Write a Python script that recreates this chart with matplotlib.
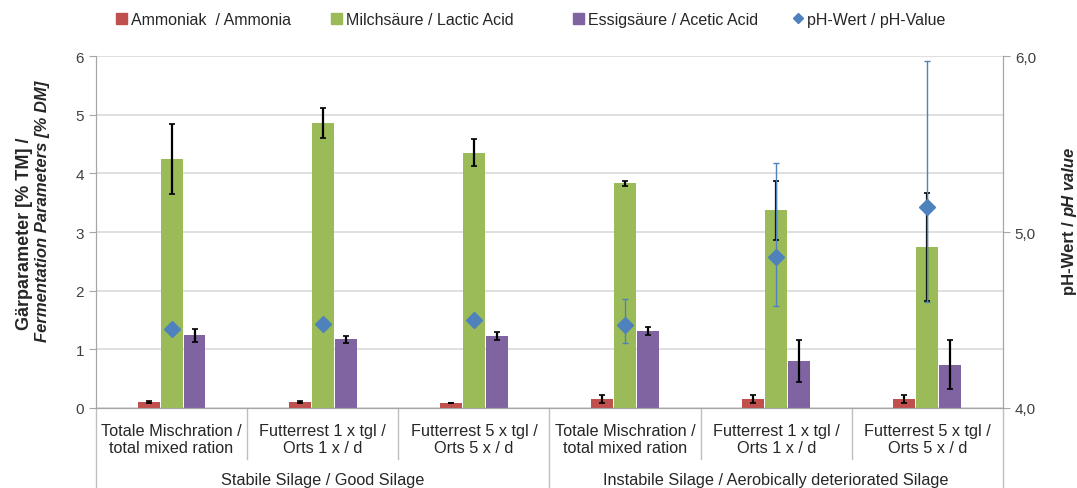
import matplotlib
matplotlib.use('Agg')
import matplotlib.pyplot as plt
import numpy as np
from matplotlib.lines import Line2D
from matplotlib.patches import Patch

plt.rcParams['font.family'] = ['Liberation Sans', 'DejaVu Sans']

# categories (two-level axis)
categories = ['Totale Mischration /\ntotal mixed ration',
              'Futterrest 1 x tgl /\nOrts 1 x / d',
              'Futterrest 5 x tgl /\nOrts 5 x / d',
              'Totale Mischration /\ntotal mixed ration',
              'Futterrest 1 x tgl /\nOrts 1 x / d',
              'Futterrest 5 x tgl /\nOrts 5 x / d']
groups = ['Stabile Silage / Good Silage',
          'Instabile Silage / Aerobically deteriorated Silage']

# values
ammonia = [0.10, 0.10, 0.08, 0.15, 0.15, 0.15]
ammonia_err = [0.02, 0.02, 0.0, 0.07, 0.07, 0.07]
lactic = [4.24, 4.86, 4.35, 3.83, 3.37, 2.74]
lactic_err = [0.60, 0.25, 0.23, 0.04, 0.50, 0.92]
acetic = [1.24, 1.17, 1.23, 1.31, 0.80, 0.74]
acetic_err = [0.11, 0.06, 0.07, 0.07, 0.36, 0.42]
ph = [4.45, 4.48, 4.50, 4.47, 4.86, 5.14]
ph_err_low = [0.0, 0.0, 0.0, 0.10, 0.28, 0.54]
ph_err_high = [0.0, 0.0, 0.0, 0.15, 0.53, 0.83]

red = '#C0504D'
green = '#9BBB59'
purple = '#8064A2'
blue = '#4F81BD'
txt = '#262626'

fig = plt.figure(figsize=(10.77, 4.89), dpi=100)
ax = fig.add_axes([0.0891, 0.1636, 0.8422, 0.7198])
ax2 = ax.twinx()

x = np.arange(len(categories))
w = 0.145
off = 0.152
ekw = dict(ecolor='black', elinewidth=1.6, capsize=2.5, capthick=1.2)

ax.bar(x - off, ammonia, w, color=red, zorder=3)
ax.bar(x, lactic, w, color=green, zorder=3)
ax.bar(x + off, acetic, w, color=purple, zorder=3)
ax.errorbar(x - off, ammonia, yerr=ammonia_err, fmt='none', zorder=4, **ekw)
ax.errorbar(x, lactic, yerr=lactic_err, fmt='none', zorder=4, **ekw)
ax.errorbar(x + off, acetic, yerr=acetic_err, fmt='none', zorder=4, **ekw)

ax2.errorbar(x, ph, yerr=[ph_err_low, ph_err_high], fmt='D', color=blue,
             markersize=8, ecolor=blue, elinewidth=1.0, capsize=2, zorder=5)

ax.set_xlim(-0.5, 5.5)
ax.set_ylim(0, 6)
ax.set_yticks(range(0, 7))
ax.grid(axis='y', color='#D9D9D9', linewidth=1.2, zorder=0)
ax.set_axisbelow(True)
ax2.set_ylim(4, 6)
ax2.set_yticks([4, 5, 6])
ax2.set_yticklabels(['4,0', '5,0', '6,0'])

for a in (ax, ax2):
    a.spines['top'].set_visible(False)
    a.spines['left'].set_color('#A6A6A6')
    a.spines['right'].set_color('#A6A6A6')
    a.spines['bottom'].set_color('#A6A6A6')
    a.tick_params(axis='y', colors='#A6A6A6', labelcolor='#404040',
                  labelsize=11, length=5)
ax.set_xticks([])

# category labels and separators
tr = ax.get_xaxis_transform()
for i, c in enumerate(categories):
    ax.text(i, -0.088, c, transform=tr, ha='center', va='center',
            fontsize=11.7, color=txt, linespacing=1.2)
for k in np.arange(-0.5, 6, 1.0):
    ybot = -0.227 if k in (-0.5, 2.5, 5.5) else -0.145
    ax.plot([k, k], [0, ybot], transform=tr, color='#BFBFBF',
            linewidth=1.0, clip_on=False)
for j, g in enumerate(groups):
    ax.text(1 + 3 * j, -0.202, g, transform=tr, ha='center', va='center',
            fontsize=11.7, color=txt)

# axis titles
fig.text(0.0223, 0.521, 'Gärparameter [% TM] /', rotation=90, ha='center',
         va='center', fontsize=13, fontweight='bold', color=txt)
fig.text(0.039, 0.568, 'Fermentation Parameters [% DM]', rotation=90,
         ha='center', va='center', fontsize=12, fontweight='bold',
         style='italic', color=txt)
fig.text(0.9935, 0.556, 'pH-Wert / ', rotation=90, ha='center', va='top',
         fontsize=12, fontweight='bold', color=txt)
fig.text(0.9935, 0.556, 'pH value', rotation=90, ha='center', va='bottom',
         fontsize=12, fontweight='bold', style='italic', color=txt)

# legend, one entry per slot as in the original
handles = [Patch(color=red), Patch(color=green), Patch(color=purple),
           Line2D([], [], marker='D', color=blue, linestyle='none',
                  markersize=5)]
labels = ['Ammoniak  / Ammonia', 'Milchsäure / Lactic Acid',
          'Essigsäure / Acetic Acid', 'pH-Wert / pH-Value']
slots = [116, 331, 573, 792]
for h, l, s in zip(handles, labels, slots):
    fig.legend([h], [l], loc='center left', bbox_to_anchor=(s / 1077, 0.958),
               frameon=False, fontsize=11.5, handlelength=0.7,
               handleheight=0.7, handletextpad=0.25, borderpad=0,
               borderaxespad=0, labelcolor=txt)

fig.savefig('out.png', dpi=100)
